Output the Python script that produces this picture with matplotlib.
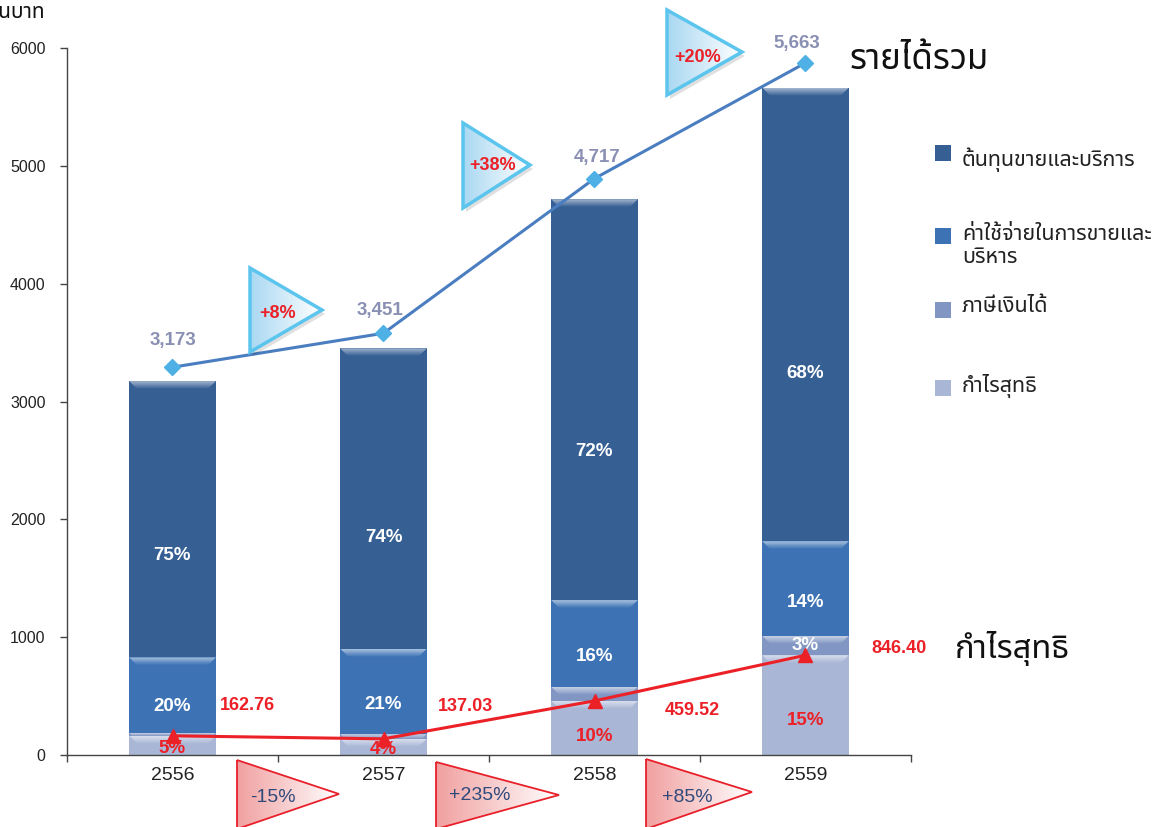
import numpy as np
import matplotlib
matplotlib.use('Agg')
import matplotlib.pyplot as plt
from matplotlib import font_manager
from matplotlib.ft2font import FT2Font
from matplotlib.patches import Polygon, Rectangle
from matplotlib.colors import to_rgb

# ---------------- data ----------------
years = ['2556', '2557', '2558', '2559']
revenue = [3173, 3451, 4717, 5663]
revenue_labels = ['3,173', '3,451', '4,717', '5,663']
cost = [2345, 2549, 3402, 3849]
sga = [640, 725, 735, 803]
tax = [25, 40, 120, 165]
profit = [162.76, 137.03, 459.52, 846.40]
profit_labels = ['162.76', '137.03', '459.52', '846.40']
cost_pct = ['75%', '74%', '72%', '68%']
sga_pct = ['20%', '21%', '16%', '14%']
tax_pct = ['', '', '', '3%']
profit_pct = ['5%', '4%', '10%', '15%']
revenue_growth = ['+8%', '+38%', '+20%']
profit_growth = ['-15%', '+235%', '+85%']
series_names = ['ต้นทุนขายและบริการ', 'ค่าใช้จ่ายในการขายและ\nบริหาร',
                'ภาษีเงินได้', 'กำไรสุทธิ']
yticks = [0, 1000, 2000, 3000, 4000, 5000, 6000]
unit_label = 'ล้านบาท'
revenue_title = 'รายได้รวม'
profit_title = 'กำไรสุทธิ'

# ---------------- fonts ----------------
def find_thai():
    names = []
    for f in font_manager.fontManager.ttflist:
        try:
            cm = FT2Font(f.fname).get_charmap()
        except Exception:
            continue
        if 0x0E01 in cm and 0x0E32 in cm:
            names.append(f.name)
    return sorted(set(names))

thai_fonts = find_thai()
THAI = 'DejaVu Sans'
for cand in ['Noto Sans Thai', 'Noto Sans Thai UI', 'Prompt', 'Kanit']:
    if cand in thai_fonts:
        THAI = cand
        break
else:
    if thai_fonts:
        THAI = thai_fonts[0]
NUM = 'Liberation Sans'
plt.rcParams['font.family'] = [NUM, THAI, 'DejaVu Sans']
THAI_FAM = [THAI, NUM, 'DejaVu Sans']

# ---------------- colours ----------------
C_COST = '#365F94'
C_SGA = '#3D73B5'
C_TAX = '#8196C3'
C_PROFIT = '#A9B6D5'
C_REVLINE = '#4A7EC0'
C_REVMARK = '#4FB0E5'
C_RED = '#EC2027'
C_REVLAB = '#8A90B3'
C_AXIS = '#444444'

W, H = 1175, 827
fig = plt.figure(figsize=(W / 100, H / 100), dpi=100)
ax = fig.add_axes([67 / W, (H - 755) / H, 844 / W, 707 / H])

x = np.arange(len(years))
bar_w = 0.41
series = [profit, tax, sga, cost]
colors = [C_PROFIT, C_TAX, C_SGA, C_COST]
pcts = [profit_pct, tax_pct, sga_pct, cost_pct]
label_frac = [0.35, 0.5, 0.35, 0.37]
label_col = [C_RED, 'white', 'white', 'white']

YMAX = 6000
px_per_y = 707 / YMAX
px_per_x = 844 / 4.0
bev_px = 8

def lighten(c, f):
    r = np.array(to_rgb(c))
    return tuple(r + (1 - r) * f)

bottom = np.zeros(len(years))
for s, col, pc, fr, lc in zip(series, colors, pcts, label_frac, label_col):
    vals = np.array(s, dtype=float)
    bars = ax.bar(x, vals, bar_w, bottom=bottom, color=col, edgecolor='none', zorder=2)
    for b, txt in zip(bars, pc):
        x0, y0 = b.get_x(), b.get_y()
        bw, bh = b.get_width(), b.get_height()
        dy = min(bev_px / px_per_y, bh)
        dx = bev_px / px_per_x * (dy / (bev_px / px_per_y))
        y1 = y0 + bh
        verts = [(x0, y1), (x0 + bw, y1), (x0 + bw - dx, y1 - dy), (x0 + dx, y1 - dy)]
        poly = Polygon(verts, closed=True, facecolor='none', edgecolor='none', zorder=3)
        ax.add_patch(poly)
        t = np.linspace(0, 1, 64)[:, None]
        lo = np.array(to_rgb(col))
        hi = np.array(lighten(col, 0.55))
        arr = lo[None, None, :] * (1 - t[:, :, None]) + hi[None, None, :] * t[:, :, None]
        arr = np.repeat(arr, 2, axis=1)
        im = ax.imshow(arr, extent=[x0, x0 + bw, y1 - dy, y1], origin='lower',
                       aspect='auto', zorder=3, interpolation='bilinear')
        im.set_clip_path(poly)
        if txt:
            ax.text(b.get_x() + bw / 2, y0 + bh * fr, txt, ha='center', va='center',
                    color=lc, fontsize=13.5, fontweight='bold', zorder=5)
    bottom += vals

ax.set_xlim(-0.5, 3.5)
ax.set_ylim(0, YMAX)
ax.set_yticks(yticks)
ax.set_yticklabels([str(v) for v in yticks])
ax.set_xticks(np.arange(-0.5, 4, 1.0))
ax.set_xticklabels([])
ax.set_xticks(x, minor=True)
ax.set_xticklabels(years, minor=True)
ax.tick_params(axis='y', direction='out', length=5, width=1, color=C_AXIS,
               labelsize=11.5, pad=10.5, labelcolor='#222222')
ax.tick_params(axis='x', which='major', direction='out', length=5, width=1, color=C_AXIS)
ax.tick_params(axis='x', which='minor', length=0, labelsize=14, pad=9, labelcolor='#222222')
for sp in ['top', 'right']:
    ax.spines[sp].set_visible(False)
for sp in ['left', 'bottom']:
    ax.spines[sp].set_color(C_AXIS)
    ax.spines[sp].set_linewidth(1)

# net profit line (primary axis)
ax.plot(x, profit, color=C_RED, lw=2.2, marker='^', markersize=10, zorder=6)
profit_off = [(75, 30), (82, 32), (98, -10), (94, 7)]
for i, (lab, off) in enumerate(zip(profit_labels, profit_off)):
    ax.annotate(lab, (x[i], profit[i]), xytext=off, textcoords='offset pixels',
                ha='center', va='center', color=C_RED, fontsize=13,
                fontweight='bold', zorder=7)

# revenue line (secondary, hidden axis)
ax2 = ax.twinx()
ax2.set_ylim(0, 5785)
ax2.set_axis_off()
ax2.plot(x, revenue, color=C_REVLINE, lw=2.2, marker='D', markersize=8,
         markerfacecolor=C_REVMARK, markeredgecolor=C_REVMARK, zorder=6)
rev_off = [(1, 27), (-3, 23), (3, 21), (-9, 19)]
for i, (lab, off) in enumerate(zip(revenue_labels, rev_off)):
    ax2.annotate(lab, (x[i], revenue[i]), xytext=off, textcoords='offset pixels',
                 ha='center', va='center', color=C_REVLAB, fontsize=13.5,
                 fontweight='bold')

# ---------------- overlay (pixel coordinates) ----------------
ov = fig.add_axes([0, 0, 1, 1], zorder=10)
ov.set_facecolor('none')
ov.set_axis_off()

def grad_triangle(verts, c_left, c_right, edge, lw, shadow=False):
    if shadow:
        sv = [(vx + 3, vy + 4) for vx, vy in verts]
        ov.add_patch(Polygon(sv, closed=True, facecolor='#000000', alpha=0.12,
                             edgecolor='none', zorder=1))
    poly = Polygon(verts, closed=True, facecolor='none', edgecolor='none', zorder=2)
    ov.add_patch(poly)
    xs = [v[0] for v in verts]
    ys = [v[1] for v in verts]
    t = np.linspace(0, 1, 128)[None, :]
    a = np.array(to_rgb(c_left))
    b = np.array(to_rgb(c_right))
    arr = a[None, None, :] * (1 - t[:, :, None]) + b[None, None, :] * t[:, :, None]
    arr = np.repeat(arr, 2, axis=0)
    im = ov.imshow(arr, extent=[min(xs), max(xs), max(ys), min(ys)], aspect='auto',
                   zorder=2, interpolation='bilinear')
    im.set_clip_path(poly)
    ov.add_patch(Polygon(verts, closed=True, facecolor='none', edgecolor=edge,
                         lw=lw, zorder=3, joinstyle='miter'))

blue_tri = [[(250, 268), (250, 352), (322, 310)],
            [(463, 123), (463, 208), (530, 165)],
            [(667, 10), (667, 95), (742, 52)]]
blue_txt = [(278, 313), (493, 165), (698, 57)]
for verts, pos, lab in zip(blue_tri, blue_txt, revenue_growth):
    grad_triangle(verts, '#A9D8F2', '#FFFFFF', '#5BC5EE', 2.5, shadow=True)
    ov.text(pos[0], pos[1], lab, ha='center', va='center', color=C_RED,
            fontsize=13, fontweight='bold', zorder=4)

red_tri = [[(237, 760), (237, 829), (339, 794)],
           [(436, 762), (436, 829), (559, 795)],
           [(646, 759), (646, 829), (752, 792)]]
red_txt = [(273, 797), (480, 796), (687, 797)]
for verts, pos, lab in zip(red_tri, red_txt, profit_growth):
    grad_triangle(verts, '#F1A0A0', '#FFFFFF', '#E8202A', 1.3)
    ov.text(pos[0], pos[1], lab, ha='center', va='center', color='#2E4A7D',
            fontsize=14, zorder=4)

# legend
leg_sq_y = [153, 236, 310, 388]
leg_txt_y = [160, 246, 307, 386]
for col, sy, ty, name in zip([C_COST, C_SGA, C_TAX, C_PROFIT], leg_sq_y, leg_txt_y, series_names):
    ov.add_patch(Rectangle((935, sy - 8), 16, 16, facecolor=col, edgecolor='none'))
    ov.text(962, ty, name, ha='left', va='center', fontsize=15.5, family=THAI_FAM,
            color='#222222', linespacing=1.1)

ov.text(850, 60, revenue_title, ha='left', va='center', fontsize=25, family=THAI_FAM,
        color='#111111')
ov.text(955, 648, profit_title, ha='left', va='center', fontsize=23.5, family=THAI_FAM,
        color='#111111')
ov.text(45, 12, unit_label, ha='right', va='center', fontsize=15, family=THAI_FAM,
        color='#111111')

ov.set_xlim(0, W)
ov.set_ylim(H, 0)
ax.set_xlim(-0.5, 3.5)
ax.set_ylim(0, YMAX)

fig.savefig('out.png', dpi=100)
